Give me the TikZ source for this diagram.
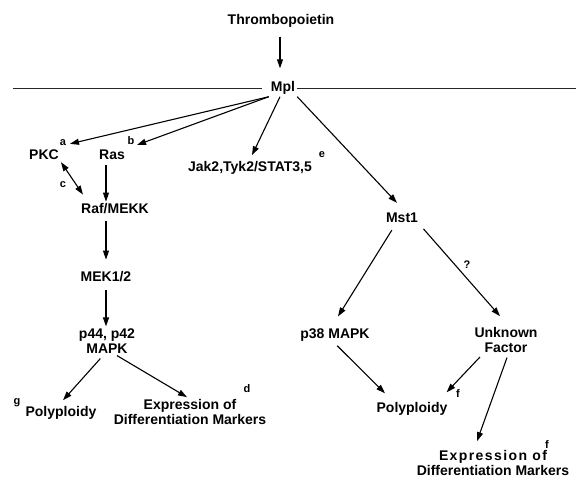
\documentclass[tikz,border=0pt]{standalone}
\usepackage{fontspec}
\setmainfont{Liberation Sans}
\usepackage{tikz}
\usetikzlibrary{arrows.meta, positioning, calc}
\tikzset{
    arr/.style={-{Triangle[length=9pt,width=6pt]}, line width=1.1pt},
    dblarr/.style={{Triangle[length=9pt,width=6pt]}-{Triangle[length=9pt,width=6pt]}, line width=1.1pt},
    membrane/.style={line width=0.9pt, black!85},
    lbl/.style={font=\bfseries\fontsize{14}{15}\selectfont, inner sep=2pt, align=center},
    note/.style={font=\bfseries\fontsize{11}{12}\selectfont, inner sep=0pt}
}
\begin{document}
\begin{tikzpicture}[x=1pt, y=-1pt]
    \useasboundingbox (0,0) rectangle (576,477);
    % ligand and receptor
    \node[lbl] (thpo) at (281,21) {Thrombopoietin};
    \node[lbl] (mpl) at (283,88) {Mpl};
    \coordinate (memL) at (13,88);
    \coordinate (memR) at (576,88);
    \draw[membrane, shorten >=7pt] (memL) -- (mpl.west);
    \draw[membrane] (mpl.east) -- (memR);
    \draw[arr, shorten <=7pt, shorten >=11pt] (thpo.south -| 280,0) -- (mpl.north -| 280,0);
    % left branch
    \node[lbl] (pkc) at (44,155) {PKC};
    \node[note] (supa) at (63,143) {a};
    \node[lbl] (ras) at (112,155) {Ras};
    \node[note] (supb) at (131,141) {b};
    \node[lbl] (raf) at (115,209) {Raf/MEKK};
    \node[note] (supc) at (63,185) {c};
    \node[lbl] (mek) at (106,277) {MEK1/2};
    \node[lbl] (mapk) at (107,341) {p44, p42\\MAPK};
    \node[lbl] (polyL) at (61,413) {Polyploidy};
    \node[note] (supg) at (17,403) {g};
    \node[lbl] (exprL) at (190,412) {Expression of\\Differentiation Markers};
    \node[note] (supd) at (247,389) {d};
    % middle
    \node[lbl] (jak) at (250,168) {Jak2,Tyk2/STAT3,5};
    \node[note] (supe) at (322,155) {e};
    % right branch
    \node[lbl] (mst) at (402,218) {Mst1};
    \node[note] (qmark) at (467,265) {?};
    \node[lbl] (p38) at (335,335) {p38 MAPK};
    \node[lbl] (unk) at (506,340) {Unknown\\Factor};
    \node[lbl] (polyR) at (412,409) {Polyploidy};
    \node[note] (supf) at (458,394) {f};
    \node[lbl] (exprR) at (493,463) {{\addfontfeature{LetterSpace=10}Expression of}\\Differentiation Markers};
    \node[note] (supf2) at (547,445) {f};
    % arrows from Mpl
    \draw[arr] (mpl.south west) -- ([shift={(9pt,4pt)}]pkc.north east);
    \draw[arr] (mpl.south west) -- ([shift={(10pt,3pt)}]ras.north east);
    \draw[arr] ([xshift=-3pt]mpl.south) -- ([shift={(2pt,4pt)}]jak.north);
    \draw[arr] (mpl.south east) -- ([shift={(-5pt,8pt)}]mst.north);
    % MAPK cascade
    \draw[dblarr] (pkc.south east) -- ([shift={(4pt,7pt)}]raf.north west);
    \draw[arr, shorten <=3pt] (ras.south -| mek) -- (raf.north -| mek);
    \draw[arr, shorten <=5pt, shorten >=10pt] (raf.south -| mek) -- (mek.north);
    \draw[arr, shorten <=6pt] (mek.south) -- (mek.south |- mapk.north);
    \draw[arr, shorten <=4pt] ([xshift=-4pt]mapk.south) -- ([shift={(2pt,4pt)}]polyL.north);
    \draw[arr] ([xshift=10pt]mapk.south) -- ([xshift=-3pt]exprL.north);
    % Mst1 pathway
    \draw[arr, shorten <=6pt] ([xshift=-7pt]mst.south) -- ([shift={(3pt,10pt)}]p38.north);
    \draw[arr, shorten <=5pt] (mst.south east) -- ([shift={(-6pt,9pt)}]unk.north);
    \draw[arr, shorten <=3pt] (p38.south) -- ([shift={(-27pt,7pt)}]polyR.north);
    \draw[arr, shorten <=3pt] ([xshift=-24pt]unk.south) -- ([shift={(-3pt,8pt)}]polyR.north east);
    \draw[arr, shorten <=3pt] ([xshift=2pt]unk.south) -- ([shift={(-16pt,7pt)}]exprR.north);
\end{tikzpicture}
\end{document}
